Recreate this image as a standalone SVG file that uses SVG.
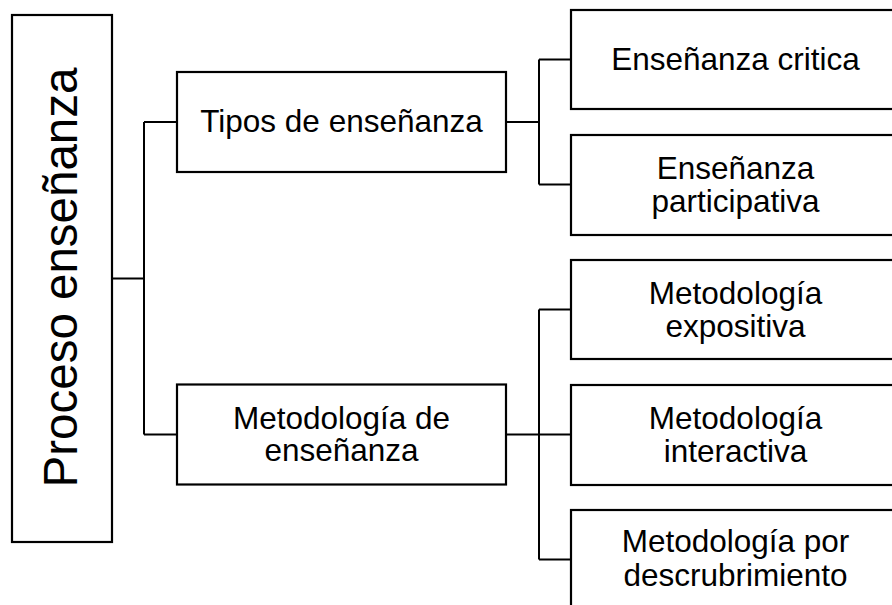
<svg xmlns="http://www.w3.org/2000/svg" width="892" height="605" viewBox="0 0 892 605">
<style>
.box{fill:#fff;stroke:#000;stroke-width:2.2}
.con{fill:none;stroke:#000;stroke-width:2}
text{font-family:"Liberation Sans",Arial,sans-serif;font-size:31.5px;fill:#000;text-anchor:middle}
.big{font-size:47.5px}
</style>
<rect width="892" height="605" fill="#fff"/>
<g id="connectors">
<path class="con" d="M112,278.5 H144 M144,122 V434.5 M144,122 H177 M144,434.5 H177"/>
<path class="con" d="M506,122 H539 M539,59.5 V184.5 M539,59.5 H571 M539,184.5 H571"/>
<path class="con" d="M506,434.5 H571 M539,309.5 V559.5 M539,309.5 H571 M539,559.5 H571"/>
</g>
<g id="root">
<rect class="box" x="12" y="15" width="100" height="527"/>
<text class="big" transform="translate(77,277.5) rotate(-90)">Proceso enseñanza</text>
</g>
<g id="tipos">
<rect class="box" x="177" y="72" width="329" height="100"/>
<text x="341.5" y="132">Tipos de enseñanza</text>
</g>
<g id="metodologia">
<rect class="box" x="177" y="384.5" width="329" height="100"/>
<text x="341.5" y="428.5">Metodología de</text>
<text x="341.5" y="461">enseñanza</text>
</g>
<g id="critica">
<rect class="box" x="571" y="10" width="329" height="99"/>
<text x="735.5" y="70">Enseñanza critica</text>
</g>
<g id="participativa">
<rect class="box" x="571" y="135" width="329" height="100"/>
<text x="735.5" y="178.5">Enseñanza</text>
<text x="735.5" y="212">participativa</text>
</g>
<g id="expositiva">
<rect class="box" x="571" y="260" width="329" height="99"/>
<text x="735.5" y="303.5">Metodología</text>
<text x="735.5" y="337">expositiva</text>
</g>
<g id="interactiva">
<rect class="box" x="571" y="385" width="329" height="100"/>
<text x="735.5" y="428.5">Metodología</text>
<text x="735.5" y="462">interactiva</text>
</g>
<g id="descubrimiento">
<rect class="box" x="571" y="510" width="329" height="110"/>
<text x="735.5" y="552">Metodología por</text>
<text x="735.5" y="585.5">descrubrimiento</text>
</g>
</svg>
